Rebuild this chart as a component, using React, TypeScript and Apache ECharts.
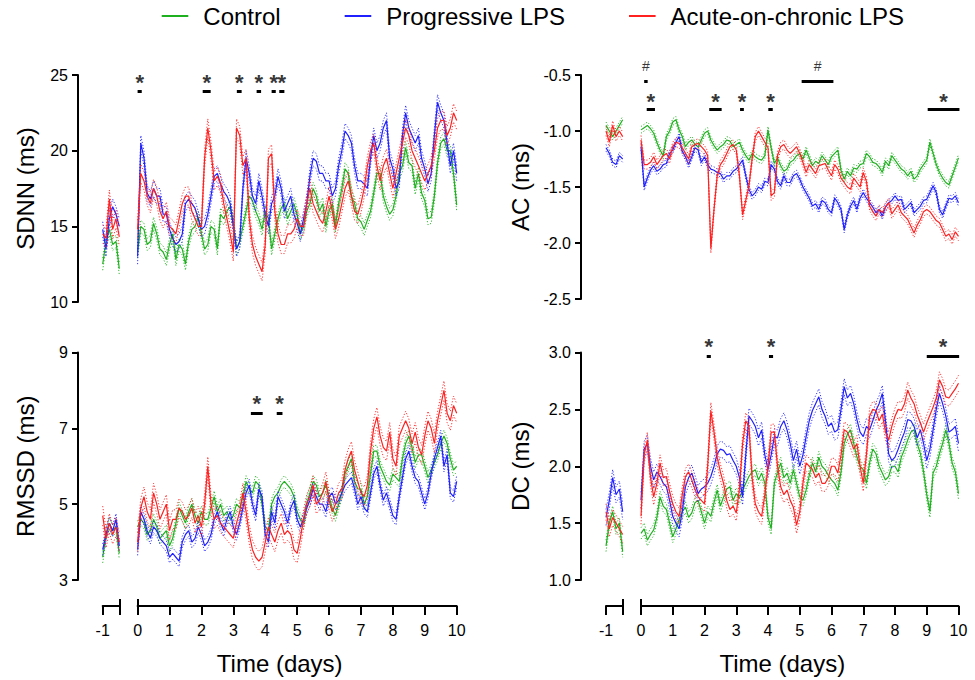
import React, { useEffect, useRef } from "react";
import * as echarts from "echarts";

const FONT = '"Liberation Sans", Arial, Helvetica, sans-serif';
const COLORS = ["#1fb01f", "#2020ff", "#ff2020"];
const LEGEND_NAMES = ["Control", "Progressive LPS", "Acute-on-chronic LPS"];

// time (days)
const T_PRE = [-1, -0.9, -0.8, -0.7, -0.6, -0.5];
const T_MAIN = [0, 0.2, 0.4, 0.6, 0.8, 1, 1.2, 1.4, 1.6, 1.8, 2, 2.2, 2.4, 2.6, 2.8, 3, 3.2, 3.4, 3.6, 3.8, 4, 4.2, 4.4, 4.6, 4.8, 5, 5.2, 5.4, 5.6, 5.8, 6, 6.2, 6.4, 6.6, 6.8, 7, 7.2, 7.4, 7.6, 7.8, 8, 8.2, 8.4, 8.6, 8.8, 9, 9.2, 9.4, 9.6, 9.8, 10];
const T_MID = [0.1, 0.3, 0.5, 0.7, 0.9, 1.1, 1.3, 1.5, 1.7, 1.9, 2.1, 2.3, 2.5, 2.7, 2.9, 3.1, 3.3, 3.5, 3.7, 3.9, 4.1, 4.3, 4.5, 4.7, 4.9, 5.1, 5.3, 5.5, 5.7, 5.9, 6.1, 6.3, 6.5, 6.7, 6.9, 7.1, 7.3, 7.5, 7.7, 7.9, 8.1, 8.3, 8.5, 8.7, 8.9, 9.1, 9.3, 9.5, 9.7, 9.9];

// SDNN (ms)
const SDNN_CONTROL_PRE = [12.5, 14.0, 14.8, 13.8, 14.0, 12.2];
const SDNN_PROG_PRE = [14.8, 13.5, 15.5, 16.3, 15.8, 15.0];
const SDNN_ACUTE_PRE = [14.5, 14.2, 16.8, 14.8, 15.5, 14.3];
const SDNN_CONTROL = [13.3, 14.8, 14.0, 14.5, 13.3, 13.8, 12.8, 13.5, 14.0, 15.0, 14.5, 13.8, 14.8, 15.8, 16.0, 15.2, 14.0, 16.0, 16.7, 15.5, 16.0, 13.5, 15.5, 16.5, 16.0, 15.8, 15.0, 16.5, 17.0, 16.5, 16.0, 15.0, 17.5, 18.5, 16.5, 15.3, 15.4, 17.2, 18.5, 16.3, 16.1, 18.5, 20.2, 19.0, 18.5, 16.7, 15.6, 19.2, 20.8, 20.0, 16.4];
const SDNN_CONTROL_MID = [15.0, 13.8, 15.2, 13.5, 12.8, 14.5, 13.8, 12.5, 14.8, 15.6, 13.5, 15.0, 13.5, 15.5, 16.3, 13.5, 15.0, 17.0, 16.0, 14.8, 15.5, 14.5, 16.2, 15.5, 16.5, 14.5, 16.0, 17.5, 16.0, 15.0, 16.5, 16.5, 18.8, 17.0, 15.5, 14.8, 16.0, 18.5, 17.0, 15.8, 17.0, 19.0, 19.2, 17.5, 17.2, 15.5, 17.0, 20.5, 20.0, 18.5];
const SDNN_PROG = [13.0, 19.5, 16.8, 17.0, 15.8, 14.8, 13.8, 14.5, 16.8, 16.2, 14.8, 15.8, 18.3, 17.8, 17.0, 15.0, 14.0, 19.5, 17.0, 18.0, 15.8, 16.5, 18.3, 16.0, 17.0, 15.2, 15.5, 18.3, 19.3, 18.5, 18.0, 17.5, 20.0, 21.0, 19.0, 18.0, 17.5, 21.0, 20.5, 22.0, 18.8, 18.0, 22.5, 21.0, 21.0, 18.8, 18.5, 23.2, 22.0, 19.0, 18.5];
const SDNN_PROG_MID = [20.5, 17.2, 17.5, 17.0, 15.8, 14.2, 14.0, 16.5, 16.5, 15.5, 15.0, 17.0, 18.5, 17.3, 16.5, 13.5, 17.5, 18.5, 16.5, 17.0, 15.0, 17.0, 17.5, 16.5, 15.8, 14.5, 16.5, 19.5, 18.5, 18.0, 17.0, 19.0, 21.3, 20.5, 18.0, 17.8, 19.5, 20.0, 21.5, 19.5, 17.5, 21.0, 21.5, 20.5, 19.5, 17.8, 21.0, 22.5, 20.5, 20.0];
const SDNN_ACUTE = [14.8, 18.0, 16.5, 17.0, 15.5, 15.0, 14.5, 16.5, 17.0, 15.5, 15.0, 21.5, 18.0, 17.8, 15.5, 13.3, 21.0, 19.5, 13.8, 12.5, 13.8, 19.8, 14.5, 13.8, 14.5, 15.5, 15.0, 17.5, 16.0, 15.2, 17.0, 14.8, 16.5, 18.0, 16.0, 16.5, 19.0, 20.5, 18.0, 19.5, 17.5, 19.5, 21.5, 20.0, 19.0, 18.0, 19.0, 21.5, 22.0, 21.5, 22.0];
const SDNN_ACUTE_MID = [18.5, 17.0, 17.5, 16.0, 16.0, 14.8, 15.5, 17.0, 16.0, 15.0, 19.5, 20.0, 18.3, 16.5, 14.5, 21.5, 19.0, 15.5, 13.0, 12.0, 19.5, 16.0, 13.8, 14.5, 14.8, 15.0, 16.5, 16.5, 15.5, 16.0, 16.0, 15.5, 17.5, 17.0, 15.8, 17.5, 20.0, 19.0, 19.0, 18.5, 18.5, 20.5, 21.0, 19.5, 18.5, 18.5, 20.0, 22.0, 21.0, 22.5];
const SDNN_SEM = [0.4, 0.5, 0.6];

// RMSSD (ms)
const RMSSD_CONTROL_PRE = [3.6, 4.2, 4.5, 4.3, 4.4, 3.7];
const RMSSD_PROG_PRE = [3.8, 4.2, 4.5, 4.3, 4.6, 3.9];
const RMSSD_ACUTE_PRE = [4.7, 4.1, 4.5, 4.2, 4.4, 4.0];
const RMSSD_CONTROL = [4.4, 4.5, 4.3, 4.4, 4.2, 3.9, 4.5, 4.7, 4.8, 4.7, 4.8, 4.6, 5.2, 5.0, 4.8, 4.7, 4.9, 5.6, 5.3, 5.5, 4.4, 5.0, 5.3, 5.6, 5.4, 4.8, 4.5, 5.3, 5.5, 5.3, 5.2, 4.7, 5.3, 6.0, 5.6, 5.4, 5.2, 6.4, 6.0, 5.6, 5.8, 5.6, 6.6, 6.5, 6.3, 6.0, 5.9, 6.3, 6.8, 6.2, 6.0];
const RMSSD_CONTROL_MID = [4.6, 4.2, 4.6, 4.1, 4.3, 4.1, 4.9, 4.5, 5.0, 4.5, 4.6, 4.9, 4.8, 4.7, 4.6, 5.0, 5.2, 5.4, 5.6, 5.0, 4.3, 5.2, 5.5, 5.5, 5.2, 4.6, 5.0, 5.6, 5.2, 5.5, 4.9, 5.0, 5.8, 6.2, 5.4, 5.0, 5.8, 6.4, 5.8, 5.5, 5.7, 6.2, 6.8, 6.1, 6.3, 5.7, 6.1, 6.6, 6.6, 5.9];
const RMSSD_PROG = [3.8, 4.6, 4.1, 4.3, 4.0, 3.6, 3.6, 4.0, 4.3, 4.1, 4.2, 4.0, 4.6, 4.5, 4.6, 4.4, 4.5, 5.3, 5.0, 5.4, 4.2, 4.8, 5.2, 4.8, 4.9, 4.6, 4.6, 5.1, 5.2, 5.0, 5.2, 5.0, 5.3, 5.6, 5.4, 5.2, 4.8, 5.8, 5.5, 5.3, 4.7, 5.2, 6.2, 6.0, 5.6, 5.0, 5.8, 6.5, 6.0, 5.3, 5.6];
const RMSSD_PROG_MID = [4.8, 4.3, 4.4, 4.1, 3.9, 3.7, 3.5, 4.2, 4.0, 4.4, 3.9, 4.2, 4.8, 4.3, 4.8, 4.2, 4.9, 5.5, 4.7, 5.2, 4.0, 4.5, 5.0, 4.5, 5.1, 4.4, 4.9, 5.4, 5.0, 4.8, 5.3, 5.1, 5.5, 5.7, 5.0, 4.9, 5.3, 6.0, 5.1, 5.0, 4.6, 5.7, 6.4, 5.7, 5.3, 5.3, 6.2, 6.8, 6.3, 5.2];
const RMSSD_ACUTE = [4.0, 5.2, 4.6, 5.0, 4.8, 4.3, 4.6, 4.8, 4.7, 4.5, 4.4, 6.0, 4.6, 4.5, 4.3, 4.1, 4.8, 4.8, 3.8, 3.5, 4.0, 4.2, 4.3, 4.2, 4.2, 3.7, 4.6, 5.2, 5.0, 5.3, 5.1, 5.0, 5.4, 6.2, 5.9, 5.3, 5.5, 7.0, 6.8, 6.4, 6.2, 6.8, 7.2, 6.6, 6.5, 6.8, 7.0, 7.2, 8.0, 7.2, 7.4];
const RMSSD_ACUTE_MID = [4.9, 4.8, 5.3, 4.6, 5.0, 4.6, 4.9, 4.6, 4.9, 4.7, 5.0, 5.0, 4.7, 4.4, 4.2, 4.5, 5.3, 4.2, 3.6, 3.6, 4.4, 4.0, 4.5, 4.3, 3.8, 4.1, 5.0, 5.5, 5.1, 5.6, 4.8, 5.3, 5.9, 6.4, 5.6, 5.2, 6.4, 7.3, 6.5, 6.9, 6.0, 7.0, 7.0, 6.9, 6.3, 7.2, 6.6, 7.6, 7.4, 7.6];
const RMSSD_SEM = [0.15, 0.15, 0.25];

// AC (ms)
const AC_CONTROL_PRE = [-0.95, -1.0, -1.05, -1.0, -0.95, -0.9];
const AC_PROG_PRE = [-1.15, -1.2, -1.28, -1.3, -1.22, -1.25];
const AC_ACUTE_PRE = [-1.0, -1.1, -0.95, -1.05, -1.0, -1.05];
const AC_CONTROL = [-0.99, -0.95, -1.02, -1.17, -1.05, -0.92, -0.99, -1.14, -1.08, -1.14, -1.02, -1.08, -1.17, -1.12, -1.09, -1.12, -1.17, -1.26, -1.23, -1.26, -0.99, -1.29, -1.31, -1.34, -1.26, -1.2, -1.17, -1.31, -1.29, -1.26, -1.23, -1.17, -1.43, -1.4, -1.34, -1.29, -1.23, -1.29, -1.37, -1.31, -1.26, -1.34, -1.4, -1.43, -1.34, -1.26, -1.2, -1.37, -1.46, -1.4, -1.24];
const AC_CONTROL_MID = [-0.97, -0.98, -1.1, -1.22, -1.0, -0.9, -1.05, -1.1, -1.12, -1.08, -1.0, -1.13, -1.14, -1.08, -1.14, -1.1, -1.22, -1.2, -1.25, -1.22, -1.15, -1.24, -1.36, -1.28, -1.22, -1.25, -1.24, -1.27, -1.22, -1.3, -1.2, -1.35, -1.36, -1.33, -1.3, -1.2, -1.28, -1.32, -1.27, -1.22, -1.3, -1.36, -1.36, -1.4, -1.3, -1.1, -1.3, -1.42, -1.48, -1.32];
const AC_PROG = [-1.14, -1.42, -1.31, -1.34, -1.29, -1.17, -1.05, -1.23, -1.23, -1.17, -1.23, -1.34, -1.37, -1.43, -1.4, -1.34, -1.26, -1.52, -1.55, -1.52, -1.46, -1.34, -1.49, -1.46, -1.4, -1.43, -1.55, -1.67, -1.7, -1.64, -1.73, -1.64, -1.88, -1.67, -1.7, -1.55, -1.64, -1.73, -1.76, -1.64, -1.58, -1.61, -1.67, -1.73, -1.67, -1.61, -1.49, -1.7, -1.67, -1.61, -1.64];
const AC_PROG_MID = [-1.5, -1.35, -1.36, -1.3, -1.2, -1.1, -1.18, -1.3, -1.15, -1.28, -1.3, -1.35, -1.38, -1.4, -1.36, -1.3, -1.4, -1.58, -1.5, -1.45, -1.3, -1.45, -1.4, -1.46, -1.38, -1.5, -1.6, -1.65, -1.62, -1.7, -1.6, -1.7, -1.75, -1.62, -1.6, -1.6, -1.68, -1.7, -1.68, -1.62, -1.62, -1.7, -1.64, -1.7, -1.62, -1.55, -1.55, -1.75, -1.6, -1.58];
const AC_ACUTE = [-1.08, -1.3, -1.23, -1.26, -1.2, -1.14, -1.11, -1.2, -1.14, -1.11, -1.17, -2.05, -1.4, -1.26, -1.14, -1.17, -1.75, -1.49, -1.05, -1.05, -1.15, -1.55, -1.14, -1.17, -1.17, -1.2, -1.37, -1.34, -1.31, -1.29, -1.4, -1.34, -1.46, -1.52, -1.46, -1.37, -1.67, -1.76, -1.73, -1.64, -1.7, -1.73, -1.79, -1.91, -1.79, -1.7, -1.76, -1.82, -1.94, -1.97, -1.94];
const AC_ACUTE_MID = [-1.3, -1.28, -1.3, -1.22, -1.25, -1.1, -1.15, -1.25, -1.12, -1.14, -1.22, -1.7, -1.3, -1.2, -1.12, -1.4, -1.62, -1.25, -1.0, -1.1, -1.58, -1.22, -1.12, -1.2, -1.14, -1.28, -1.3, -1.38, -1.3, -1.35, -1.3, -1.42, -1.5, -1.42, -1.5, -1.45, -1.72, -1.7, -1.68, -1.74, -1.66, -1.76, -1.85, -1.84, -1.72, -1.72, -1.8, -1.88, -1.92, -1.9];
const AC_SEM = [0.03, 0.03, 0.04];

// DC (ms)
const DC_CONTROL_PRE = [1.3, 1.5, 1.6, 1.45, 1.5, 1.25];
const DC_PROG_PRE = [1.55, 1.7, 1.9, 1.75, 1.8, 1.6];
const DC_ACUTE_PRE = [1.6, 1.45, 1.55, 1.5, 1.45, 1.4];
const DC_CONTROL = [1.41, 1.35, 1.44, 1.73, 1.62, 1.38, 1.53, 1.64, 1.59, 1.7, 1.5, 1.56, 1.79, 1.73, 1.82, 1.76, 1.79, 1.91, 1.97, 1.94, 1.55, 1.85, 2.03, 1.94, 1.97, 1.73, 1.79, 2.03, 2.08, 1.97, 1.88, 1.79, 2.2, 2.32, 2.08, 1.97, 2.03, 2.11, 1.94, 1.91, 2.0, 2.08, 2.23, 2.32, 2.11, 1.75, 1.94, 2.11, 2.32, 2.03, 1.76];
const DC_CONTROL_MID = [1.45, 1.4, 1.55, 1.65, 1.5, 1.45, 1.6, 1.55, 1.68, 1.6, 1.6, 1.68, 1.65, 1.8, 1.7, 1.72, 1.85, 1.95, 1.88, 1.85, 1.45, 1.95, 1.9, 1.85, 1.85, 1.7, 1.92, 1.95, 2.0, 1.92, 1.85, 1.95, 2.28, 2.2, 2.0, 1.85, 2.15, 2.0, 1.88, 2.0, 1.95, 2.15, 2.3, 2.2, 1.95, 1.6, 2.0, 2.2, 2.2, 1.95];
const DC_PROG = [1.7, 2.2, 1.88, 1.91, 1.82, 1.56, 1.45, 1.82, 1.94, 1.76, 1.82, 1.91, 2.11, 2.14, 2.11, 2.0, 1.73, 2.44, 2.35, 2.32, 1.97, 2.26, 2.35, 2.32, 2.05, 2.0, 2.26, 2.49, 2.61, 2.44, 2.38, 2.32, 2.7, 2.64, 2.41, 2.26, 2.32, 2.49, 2.64, 2.11, 2.08, 2.23, 2.41, 2.35, 2.32, 2.05, 2.32, 2.64, 2.44, 2.32, 2.2];
const DC_PROG_MID = [2.15, 2.0, 1.95, 1.85, 1.7, 1.5, 1.6, 1.9, 1.85, 1.8, 1.85, 2.0, 2.15, 2.1, 2.05, 1.9, 2.1, 2.4, 2.25, 2.1, 2.1, 2.25, 2.4, 2.2, 2.15, 2.1, 2.4, 2.55, 2.5, 2.35, 2.3, 2.5, 2.6, 2.55, 2.3, 2.35, 2.4, 2.55, 2.4, 2.05, 2.15, 2.3, 2.4, 2.25, 2.2, 2.15, 2.5, 2.55, 2.3, 2.35];
const DC_ACUTE = [1.56, 2.23, 1.73, 2.03, 1.91, 1.67, 1.56, 1.91, 1.88, 1.73, 1.67, 2.49, 2.08, 1.85, 1.62, 1.59, 2.2, 2.35, 1.67, 1.56, 2.0, 2.3, 1.82, 1.79, 1.64, 1.6, 2.03, 1.97, 1.94, 1.85, 2.0, 1.94, 2.32, 2.23, 2.2, 1.85, 2.44, 2.49, 2.46, 2.23, 2.44, 2.49, 2.67, 2.55, 2.38, 2.38, 2.52, 2.76, 2.61, 2.64, 2.73];
const DC_ACUTE_MID = [2.1, 1.9, 1.85, 1.9, 1.78, 1.6, 1.75, 1.95, 1.8, 1.7, 2.0, 2.3, 1.95, 1.7, 1.65, 1.8, 2.4, 1.9, 1.6, 1.75, 2.3, 2.0, 1.75, 1.7, 1.48, 1.85, 2.0, 1.9, 1.85, 1.9, 2.0, 2.1, 2.3, 2.15, 2.0, 2.1, 2.5, 2.4, 2.3, 2.35, 2.5, 2.55, 2.6, 2.45, 2.3, 2.45, 2.6, 2.7, 2.6, 2.68];
const DC_SEM = [0.05, 0.07, 0.07];

// significance bars: [start day, end day]
const SDNN_STAR_BARS = [[0, 0.13], [2.04, 2.29], [3.11, 3.26], [3.73, 3.87], [4.2, 4.33], [4.44, 4.6]];
const RMSSD_STAR_BARS = [[3.55, 3.92], [4.36, 4.54]];
const AC_STAR_BARS = [[0.18, 0.44], [2.15, 2.54], [3.12, 3.24], [4.01, 4.15], [9.03, 10.03]];
const AC_HASH_BARS = [[0.1, 0.21], [5.06, 6.06]];
const DC_STAR_BARS = [[2.07, 2.2], [4.03, 4.16], [9.0, 10.02]];

// merge the even-step and odd-step readings into one time-ordered list
function merged(ta: number[], va: number[], tb: number[], vb: number[]): number[][] {
  const pts = ta.map((t, i) => [t, va[i]]).concat(tb.map((t, i) => [t, vb[i]]));
  return pts.sort((a, b) => a[0] - b[0]);
}
function pairs(ts: number[], vs: number[]): number[][] {
  return ts.map((t, i) => [t, vs[i]]);
}

type Sig = { bars: number[][]; y: number; text: string; size: number; bold: boolean; dy: number };
type Panel = {
  yName: string; yMin: number; yMax: number; yInt: number; decimals: number;
  pre: number[][][]; main: number[][][]; sem: number[]; sig: Sig[];
  preLeft: number; preWidth: number; mainLeft: number; mainWidth: number;
  top: number; height: number; yOffset: number; nameGap: number; showX: boolean; xOffset: number;
};

const PANELS: Panel[] = [
  {
    yName: "SDNN (ms)", yMin: 10, yMax: 25, yInt: 5, decimals: 0,
    pre: [pairs(T_PRE, SDNN_CONTROL_PRE), pairs(T_PRE, SDNN_PROG_PRE), pairs(T_PRE, SDNN_ACUTE_PRE)],
    main: [
      merged(T_MAIN, SDNN_CONTROL, T_MID, SDNN_CONTROL_MID),
      merged(T_MAIN, SDNN_PROG, T_MID, SDNN_PROG_MID),
      merged(T_MAIN, SDNN_ACUTE, T_MID, SDNN_ACUTE_MID),
    ],
    sem: SDNN_SEM,
    sig: [{ bars: SDNN_STAR_BARS, y: 23.9, text: "*", size: 22, bold: true, dy: -9 }],
    preLeft: 102.7, preWidth: 16.6, mainLeft: 137.6, mainWidth: 319.1,
    top: 75, height: 227, yOffset: 24.7, nameGap: 41, showX: false, xOffset: 0,
  },
  {
    yName: "AC (ms)", yMin: -2.5, yMax: -0.5, yInt: 0.5, decimals: 1,
    pre: [pairs(T_PRE, AC_CONTROL_PRE), pairs(T_PRE, AC_PROG_PRE), pairs(T_PRE, AC_ACUTE_PRE)],
    main: [
      merged(T_MAIN, AC_CONTROL, T_MID, AC_CONTROL_MID),
      merged(T_MAIN, AC_PROG, T_MID, AC_PROG_MID),
      merged(T_MAIN, AC_ACUTE, T_MID, AC_ACUTE_MID),
    ],
    sem: AC_SEM,
    sig: [
      { bars: AC_STAR_BARS, y: -0.805, text: "*", size: 22, bold: true, dy: -8 },
      { bars: AC_HASH_BARS, y: -0.56, text: "#", size: 14, bold: false, dy: -16 },
    ],
    preLeft: 606, preWidth: 16.7, mainLeft: 641, mainWidth: 317.5,
    top: 75, height: 224, yOffset: 25, nameGap: 49, showX: false, xOffset: 0,
  },
  {
    yName: "RMSSD (ms)", yMin: 3, yMax: 9, yInt: 2, decimals: 0,
    pre: [pairs(T_PRE, RMSSD_CONTROL_PRE), pairs(T_PRE, RMSSD_PROG_PRE), pairs(T_PRE, RMSSD_ACUTE_PRE)],
    main: [
      merged(T_MAIN, RMSSD_CONTROL, T_MID, RMSSD_CONTROL_MID),
      merged(T_MAIN, RMSSD_PROG, T_MID, RMSSD_PROG_MID),
      merged(T_MAIN, RMSSD_ACUTE, T_MID, RMSSD_ACUTE_MID),
    ],
    sem: RMSSD_SEM,
    sig: [{ bars: RMSSD_STAR_BARS, y: 7.41, text: "*", size: 22, bold: true, dy: -9 }],
    preLeft: 102.7, preWidth: 16.6, mainLeft: 137.6, mainWidth: 319.1,
    top: 352.5, height: 227.5, yOffset: 24.7, nameGap: 41, showX: true, xOffset: 26,
  },
  {
    yName: "DC (ms)", yMin: 1, yMax: 3, yInt: 0.5, decimals: 1,
    pre: [pairs(T_PRE, DC_CONTROL_PRE), pairs(T_PRE, DC_PROG_PRE), pairs(T_PRE, DC_ACUTE_PRE)],
    main: [
      merged(T_MAIN, DC_CONTROL, T_MID, DC_CONTROL_MID),
      merged(T_MAIN, DC_PROG, T_MID, DC_PROG_MID),
      merged(T_MAIN, DC_ACUTE, T_MID, DC_ACUTE_MID),
    ],
    sem: DC_SEM,
    sig: [{ bars: DC_STAR_BARS, y: 2.97, text: "*", size: 22, bold: true, dy: -9 }],
    preLeft: 606, preWidth: 16.7, mainLeft: 641, mainWidth: 317.5,
    top: 352.5, height: 227.5, yOffset: 25, nameGap: 49, showX: true, xOffset: 26,
  },
];

function buildOption() {
  const grid: any[] = [];
  const xAxis: any[] = [];
  const extraX: any[] = [];
  const yAxis: any[] = [];
  const series: any[] = [];
  const axisLine = { show: true, lineStyle: { color: "#000", width: 2 } };

  PANELS.forEach((p, pi) => {
    [0, 1].forEach((si) => {
      const g = pi * 2 + si;
      const isPre = si === 0;
      grid.push({
        left: isPre ? p.preLeft : p.mainLeft,
        width: isPre ? p.preWidth : p.mainWidth,
        top: p.top,
        height: p.height,
      });
      const xMin = isPre ? -1 : 0;
      const xMax = isPre ? -0.5 : 10;
      const xInt = isPre ? 0.5 : 1;
      xAxis.push({
        type: "value", gridIndex: g, min: xMin, max: xMax, interval: xInt,
        show: p.showX, position: "bottom", offset: p.xOffset,
        axisLine,
        axisTick: { show: true, length: 9, lineStyle: { color: "#000", width: 2 } },
        axisLabel: {
          show: true, margin: 16, color: "#000", fontSize: 16, fontFamily: FONT,
          formatter: (v: number) => (isPre ? (v === -1 ? "-1" : "") : String(v)),
        },
        splitLine: { show: false },
      });
      if (p.showX) {
        // break marks: short upward ticks at the broken ends of the time axis
        extraX.push({
          type: "value", gridIndex: g, min: xMin, max: xMax, interval: xInt,
          show: true, position: "bottom", offset: p.xOffset,
          axisLine: { show: false },
          axisTick: {
            show: true, inside: true, length: 7, customValues: [isPre ? -0.5 : 0],
            lineStyle: { color: "#000", width: 2 },
          },
          axisLabel: { show: false },
          splitLine: { show: false },
        });
      }
      yAxis.push({
        type: "value", gridIndex: g, min: p.yMin, max: p.yMax, interval: p.yInt,
        show: isPre, position: "left", offset: p.yOffset,
        name: isPre ? p.yName : "", nameLocation: "middle", nameGap: p.nameGap,
        nameTextStyle: { color: "#000", fontSize: 24, fontFamily: FONT },
        axisLine,
        axisTick: { show: true, length: 6, lineStyle: { color: "#000", width: 2 } },
        axisLabel: {
          margin: 10, color: "#000", fontSize: 16, fontFamily: FONT,
          formatter: (v: number) => v.toFixed(p.decimals),
        },
        splitLine: { show: false },
      });
      const groups = isPre ? p.pre : p.main;
      groups.forEach((pts, ci) => {
        const color = COLORS[ci];
        const s = p.sem[ci];
        const base = {
          type: "line", xAxisIndex: g, yAxisIndex: g, showSymbol: false, symbol: "none",
          color, itemStyle: { color }, silent: true,
        };
        series.push({
          ...base, name: LEGEND_NAMES[ci] + " SEM+",
          data: pts.map((d) => [d[0], d[1] + s]),
          lineStyle: { color, width: 1, type: [1.2, 1.8], opacity: 0.9 },
        });
        series.push({
          ...base, name: LEGEND_NAMES[ci] + " SEM-",
          data: pts.map((d) => [d[0], d[1] - s]),
          lineStyle: { color, width: 1, type: [1.2, 1.8], opacity: 0.9 },
        });
        series.push({
          ...base, name: LEGEND_NAMES[ci],
          data: pts,
          lineStyle: { color, width: 1.2 },
        });
      });
    });
    const g = pi * 2 + 1;
    p.sig.forEach((sg) => {
      series.push({
        type: "lines", coordinateSystem: "cartesian2d", xAxisIndex: g, yAxisIndex: g,
        silent: true,
        data: sg.bars.map((b) => ({ coords: [[b[0], sg.y], [b[1], sg.y]] })),
        lineStyle: { color: "#000", width: 3, opacity: 1, curveness: 0 },
      });
      series.push({
        type: "scatter", xAxisIndex: g, yAxisIndex: g, silent: true,
        symbol: "circle", symbolSize: 1,
        itemStyle: { color: "rgba(0,0,0,0)" },
        data: sg.bars.map((b) => [(b[0] + b[1]) / 2, sg.y]),
        label: {
          show: true, position: "inside", formatter: sg.text, offset: [0, sg.dy],
          color: "#000", fontSize: sg.size, fontWeight: sg.bold ? "bold" : "normal", fontFamily: FONT,
        },
      });
    });
  });

  return {
    animation: false,
    backgroundColor: "#fff",
    legend: {
      data: LEGEND_NAMES,
      left: 161.7, top: 4, padding: 0,
      icon: "rect", itemWidth: 26.6, itemHeight: 2, itemGap: 64,
      selectedMode: false,
      textStyle: { color: "#000", fontSize: 24, fontFamily: FONT, padding: [0, 0, 0, 10] },
    },
    grid,
    xAxis: xAxis.concat(extraX),
    yAxis,
    series,
    graphic: [
      { type: "text", x: 279.7, y: 663, style: { text: "Time (days)", fill: "#000", font: `24px ${FONT}`, textAlign: "center", textVerticalAlign: "middle" } },
      { type: "text", x: 782.3, y: 663, style: { text: "Time (days)", fill: "#000", font: `24px ${FONT}`, textAlign: "center", textVerticalAlign: "middle" } },
    ],
  };
}

export default function App() {
  const ref = useRef<HTMLDivElement>(null);
  useEffect(() => {
    if (!ref.current) return;
    const chart = echarts.init(ref.current, undefined, { renderer: "svg" });
    chart.setOption(buildOption() as any);
    return () => chart.dispose();
  }, []);
  return (
    <div
      ref={ref}
      style={{ position: "fixed", left: 0, top: 0, width: 975, height: 680, background: "#fff" }}
    />
  );
}
